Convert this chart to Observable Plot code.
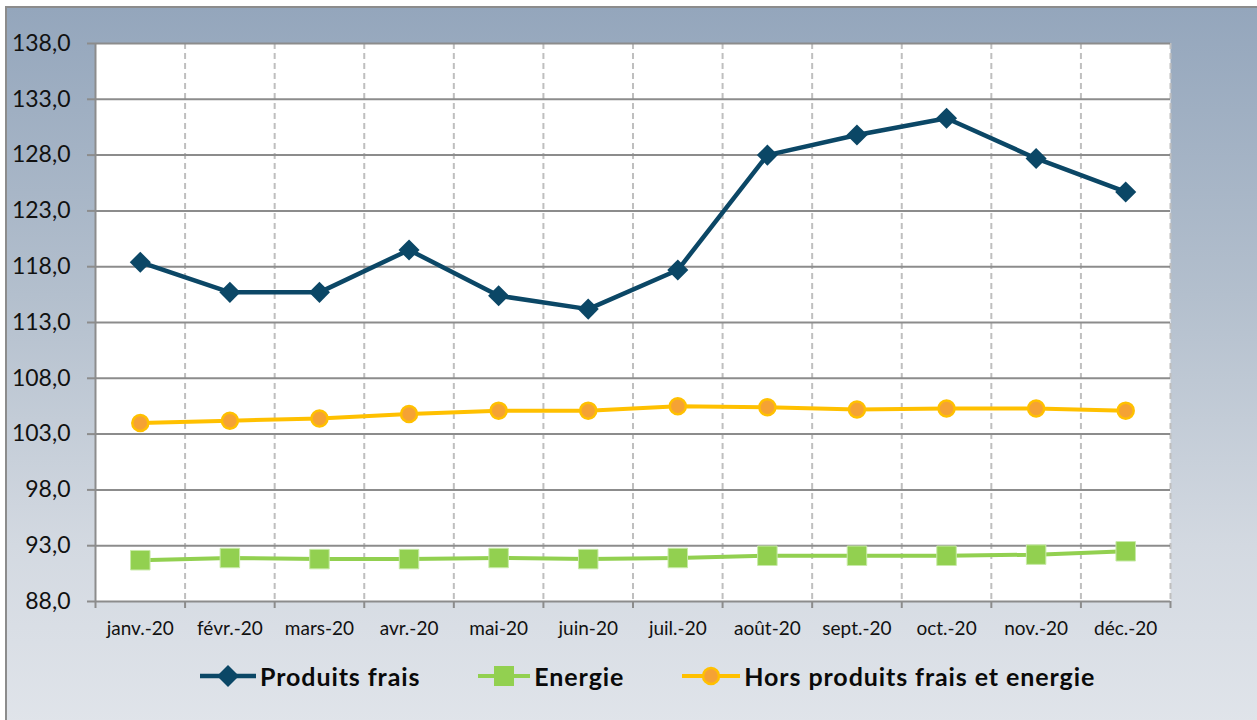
<!DOCTYPE html>
<html>
<head>
<meta charset="utf-8">
<script src="https://cdn.jsdelivr.net/npm/d3@7"></script>
<script src="https://cdn.jsdelivr.net/npm/@observablehq/plot@0.6"></script>
<style>
  html, body { margin: 0; padding: 0; background: #fff; }
  #page { position: relative; width: 1257px; height: 720px; overflow: hidden; background: #fff; font-family: Lato, "Open Sans", sans-serif; }
  #bg { position: absolute; left: 5px; top: 6px; right: -4px; bottom: -4px;
        border-left: 2px solid #8c8c8c; border-top: 2px solid #8c8c8c;
        background: linear-gradient(to bottom, #94a6bc 0%, #b3bfcd 40%, #d3d9e1 75%, #e0e4ea 100%); }
  #chart { position: absolute; left: 0; top: 0; }
  #legend { position: absolute; left: 200px; top: 650px; height: 52px; display: flex; align-items: center;
            font-family: Lato, "Open Sans", sans-serif; font-weight: 700; font-size: 25px; letter-spacing: 0.9px; color: #0a0a0a; }
  .item { display: flex; align-items: center; margin-right: 58px; }
  .item svg { margin-right: 4px; }
</style>
</head>
<body>
<div id="page">
  <div id="bg"></div>
  <div id="chart"></div>
  <div id="legend"></div>
</div>
<script>
const months = ["janv.-20","févr.-20","mars-20","avr.-20","mai-20","juin-20","juil.-20","août-20","sept.-20","oct.-20","nov.-20","déc.-20"];
const produitsFrais = [118.4,115.7,115.7,119.5,115.4,114.2,117.7,128.0,129.8,131.3,127.7,124.7];
const energie = [91.7,91.9,91.8,91.8,91.9,91.8,91.9,92.1,92.1,92.1,92.2,92.5];
const horsPFE = [104.0,104.2,104.4,104.8,105.1,105.1,105.5,105.4,105.2,105.3,105.3,105.1];
const yTicks = [88,93,98,103,108,113,118,123,128,133,138];
const seriesNames = ["Produits frais","Energie","Hors produits frais et energie"];

const idx = months.map((m, i) => i);
const bounds = d3.range(months.length + 1).map(i => i - 0.5);
const rows = (vals) => vals.map((v, i) => ({i, v}));
const fmt = d => d.toFixed(1).replace(".", ",");

const colPF = "#0b4766", colEn = "#92d050", colHo = "#ffc000", colHoFill = "#f5a234";

const chart = Plot.plot({
  width: 1257, height: 650,
  marginLeft: 95, marginRight: 87, marginTop: 43, marginBottom: 49,
  x: {type: "linear", domain: [-0.5, months.length - 0.5], label: null},
  y: {domain: [88, 138], label: null},
  style: {background: "transparent", fontFamily: "Lato, 'Open Sans', sans-serif", overflow: "visible"},
  marks: [
    Plot.frame({fill: "white", stroke: null}),
    Plot.ruleX(bounds.slice(1), {stroke: "#bfbfbf", strokeWidth: 2, strokeDasharray: "6,4"}),
    Plot.ruleY(yTicks, {stroke: "#8c8c8c", strokeWidth: 2}),
    Plot.ruleX(bounds.slice(0, 1), {stroke: "#8c8c8c", strokeWidth: 2}),
    Plot.axisY({ticks: yTicks, tickSize: 8, tickFormat: () => "", stroke: "#8c8c8c", strokeWidth: 2, label: null}),
    Plot.axisY({ticks: yTicks, tickSize: 0, tickPadding: 25, tickFormat: fmt, fontSize: 23, fill: "#111", label: null}),
    Plot.axisX({ticks: bounds, tickSize: 7, tickFormat: () => "", stroke: "#8c8c8c", strokeWidth: 2, label: null}),
    Plot.axisX({ticks: idx, tickSize: 0, tickPadding: 20, tickFormat: i => months[i], fontSize: 19, fill: "#111", label: null}),
    Plot.line(rows(energie), {x: "i", y: "v", stroke: colEn, strokeWidth: 4}),
    Plot.dot(rows(energie), {x: "i", y: "v", symbol: "square", r: 11, fill: colEn, stroke: "#c8eaa8", strokeWidth: 1}),
    Plot.line(rows(horsPFE), {x: "i", y: "v", stroke: colHo, strokeWidth: 4}),
    Plot.dot(rows(horsPFE), {x: "i", y: "v", r: 8, fill: colHoFill, stroke: colHo, strokeWidth: 2.5}),
    Plot.line(rows(produitsFrais), {x: "i", y: "v", stroke: colPF, strokeWidth: 4.5}),
    Plot.dot(rows(produitsFrais), {x: "i", y: "v", symbol: "diamond2", r: 9.5, fill: colPF})
  ]
});
document.getElementById("chart").appendChild(chart);

const legendSwatches = [
  `<svg width="56" height="26"><line x1="0" y1="13" x2="56" y2="13" stroke="${colPF}" stroke-width="4.5"/><path d="M28,2 L39,13 L28,24 L17,13 Z" fill="${colPF}"/></svg>`,
  `<svg width="52" height="26"><line x1="0" y1="13" x2="52" y2="13" stroke="${colEn}" stroke-width="4"/><rect x="16" y="3" width="20" height="20" fill="${colEn}"/></svg>`,
  `<svg width="58" height="26"><line x1="0" y1="13" x2="58" y2="13" stroke="${colHo}" stroke-width="4"/><circle cx="29" cy="13" r="8" fill="${colHoFill}" stroke="${colHo}" stroke-width="2.5"/></svg>`
];
const legend = document.getElementById("legend");
seriesNames.forEach((name, k) => {
  const it = document.createElement("div");
  it.className = "item";
  it.innerHTML = legendSwatches[k] + `<span>${name}</span>`;
  legend.appendChild(it);
});
</script>
</body>
</html>
